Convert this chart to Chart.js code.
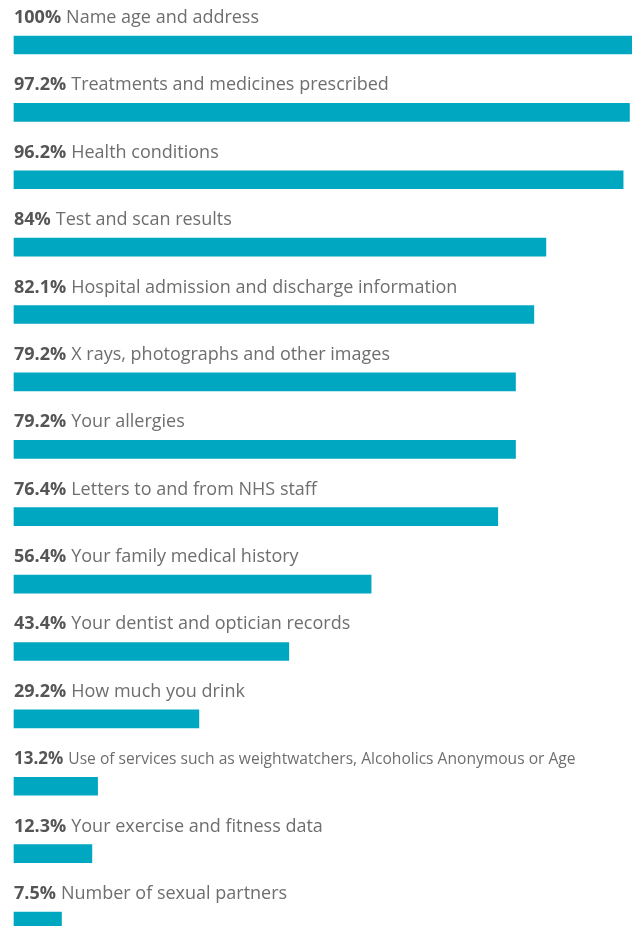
<!DOCTYPE html>
<html>
<head>
<meta charset="utf-8">
<script src="https://cdn.jsdelivr.net/npm/chart.js@4"></script>
<style>
  html, body { margin: 0; padding: 0; background: #fff; }
  #wrap { width: 632px; height: 926px; position: relative; }
</style>
</head>
<body>
<div id="wrap"><canvas id="mycanvas"></canvas></div>
<script>
var percents = [100, 97.2, 96.2, 84, 82.1, 79.2, 79.2, 76.4, 56.4, 43.4, 29.2, 13.2, 12.3, 7.5];
var items = [
  "Name age and address",
  "Treatments and medicines prescribed",
  "Health conditions",
  "Test and scan results",
  "Hospital admission and discharge information",
  "X rays, photographs and other images",
  "Your allergies",
  "Letters to and from NHS staff",
  "Your family medical history",
  "Your dentist and optician records",
  "How much you drink",
  "Use of services such as weightwatchers, Alcoholics Anonymous or Age",
  "Your exercise and fitness data",
  "Number of sexual partners"
];
var barColour = '#00a7c1';

// write the "xx% label" line above every bar
var labelPlugin = {
  id: 'barLabels',
  afterDatasetsDraw: function(chart) {
    var ctx = chart.ctx;
    var meta = chart.getDatasetMeta(0);
    ctx.save();
    ctx.textBaseline = 'alphabetic';
    ctx.textAlign = 'left';
    meta.data.forEach(function(bar, i) {
      var big = i == 11 ? 17 : 18;
      var small = i == 11 ? 15.6 : 18;
      var x = 14;
      var y = bar.y - 22;
      var pct = percents[i] + '%';
      ctx.font = 'bold ' + big + 'px "Open Sans"';
      ctx.fillStyle = '#555555';
      ctx.fillText(pct, x, y);
      x += ctx.measureText(pct).width + 5;
      ctx.font = small + 'px "Open Sans"';
      ctx.fillStyle = '#6e6e6e';
      ctx.fillText(items[i], x, y);
    });
    ctx.restore();
  }
};

var ctx = document.getElementById('mycanvas');
var barGraph = new Chart(ctx, {
  type: 'bar',
  data: {
    labels: items,
    datasets: [{
      data: percents,
      backgroundColor: barColour,
      borderWidth: 0,
      barThickness: 18,
      clip: false
    }]
  },
  options: {
    indexAxis: 'y',
    responsive: true,
    maintainAspectRatio: false,
    animation: false,
    layout: { padding: { left: 14, right: 0, top: 45, bottom: 5 } },
    plugins: { legend: { display: false }, tooltip: { enabled: false } },
    scales: {
      x: { display: false, min: 0, max: 97.6 },
      y: { display: false, offset: false }
    }
  },
  plugins: [labelPlugin]
});
</script>
</body>
</html>
